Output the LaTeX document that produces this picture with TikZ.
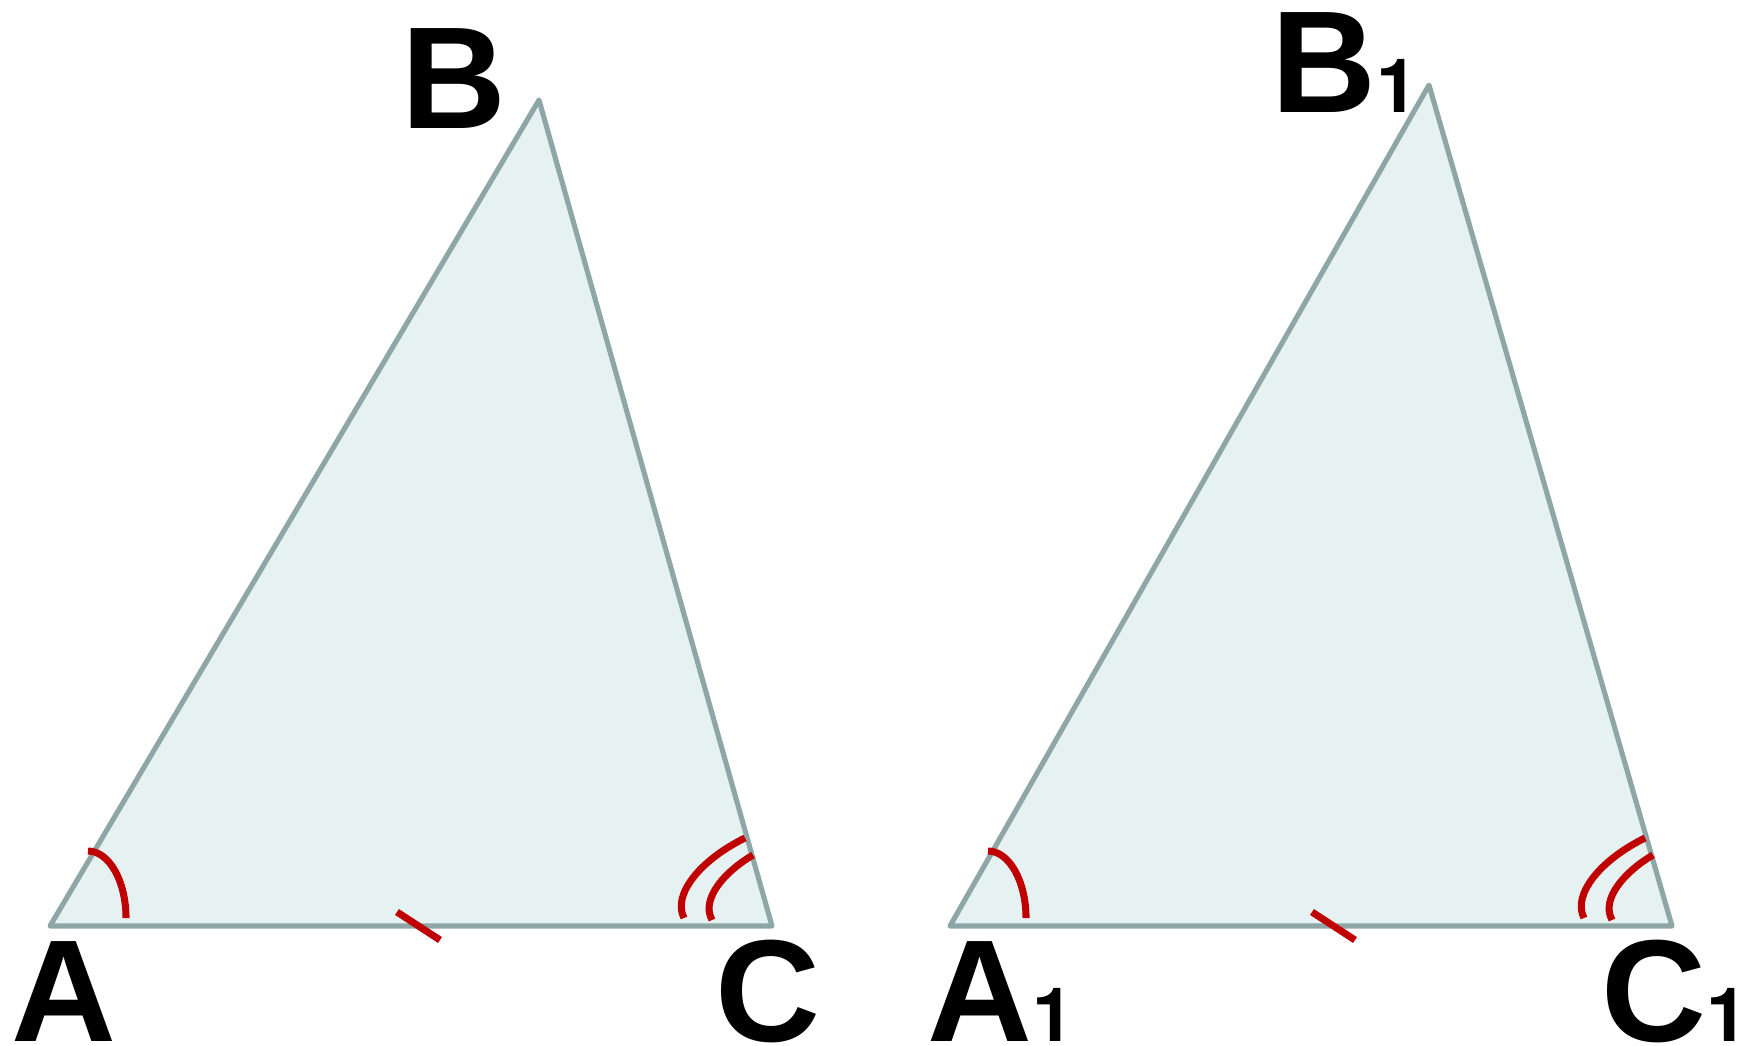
\documentclass[tikz,border=0pt]{standalone}
\usepackage{fontspec}
\setmainfont{Liberation Sans}
\newfontfamily\subfont{TeX Gyre Heros}
\usetikzlibrary{calc}
\definecolor{trifill}{HTML}{E6F2F2}
\definecolor{triedge}{HTML}{8FA6A6}
\definecolor{markred}{HTML}{C00000}
\newcommand{\vsub}[1]{{\subfont\fontsize{21.3}{21.3}\selectfont\bfseries #1}}

\begin{document}
\begin{tikzpicture}[x=0.01cm,y=-0.01cm,
    tri/.style={draw=triedge,fill=trifill,line width=1.45pt,line join=round},
    angmark/.style={draw=markred,line width=2pt},
    tickmark/.style={draw=markred,line width=2pt},
    vlbl/.style={inner sep=0pt,anchor=base west,font=\fontsize{41.3}{41.3}\selectfont\bfseries}]
  \useasboundingbox (0,0) rectangle (1742,1045);
  % first triangle
  \coordinate (A) at (50,926);
  \coordinate (B) at (539,100);
  \coordinate (C) at (772,926);
  \draw[tri] (A) -- (B) -- (C) -- cycle;
  \node[vlbl] (lA) at (11,1041) {A};
  \node[vlbl] (lB) at (401,128) {B};
  \node[vlbl] (lC) at (715,1041) {C};
  \draw[angmark] ($(A)+(38,-75)$) arc[start angle=90,end angle=0,x radius=0.38cm,y radius=0.67cm];
  \draw[angmark] ($(C)+(-27,-88)$) .. controls ($(C)+(-72,-66)$) and ($(C)+(-100,-31)$) .. ($(C)+(-88,-8)$);
  \draw[angmark] ($(C)+(-19,-71)$) .. controls ($(C)+(-45,-56)$) and ($(C)+(-72,-28)$) .. ($(C)+(-60,-6)$);
  \coordinate (mAC) at (418.5,926);
  \draw[tickmark] ($(mAC)+(-21.5,-14)$) -- ($(mAC)+(21.5,14)$);
  % second triangle
  \coordinate (A1) at (950,926);
  \coordinate (B1) at (1429,85);
  \coordinate (C1) at (1672,926);
  \draw[tri] (A1) -- (B1) -- (C1) -- cycle;
  \node[vlbl] (lA1) at (927,1041) {A\vsub{1}};
  \node[vlbl] (lB1) at (1271,112) {B\vsub{1}};
  \node[vlbl] (lC1) at (1601,1041) {C\vsub{1}};
  \draw[angmark] ($(A1)+(38,-75)$) arc[start angle=90,end angle=0,x radius=0.38cm,y radius=0.67cm];
  \draw[angmark] ($(C1)+(-27,-88)$) .. controls ($(C1)+(-72,-66)$) and ($(C1)+(-100,-31)$) .. ($(C1)+(-88,-8)$);
  \draw[angmark] ($(C1)+(-19,-71)$) .. controls ($(C1)+(-45,-56)$) and ($(C1)+(-72,-28)$) .. ($(C1)+(-60,-6)$);
  \coordinate (mA1C1) at (1333.5,926);
  \draw[tickmark] ($(mA1C1)+(-21.5,-14)$) -- ($(mA1C1)+(21.5,14)$);
\end{tikzpicture}
\end{document}
